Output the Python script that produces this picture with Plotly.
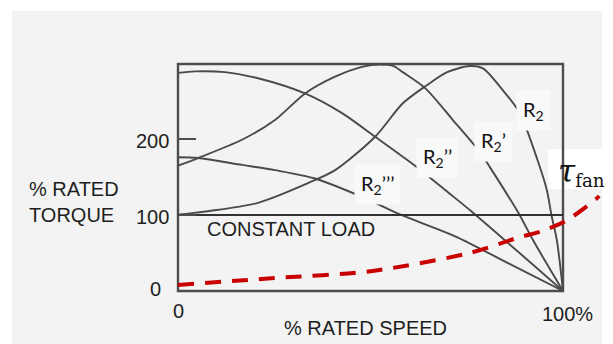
import plotly.graph_objects as go

# ---------------- data ----------------
speed_r2 = [0, 1, 7.8, 20.8, 33.8, 40.8, 51.2, 58.4, 64.7, 69.9, 75.8, 79.2, 84.4, 88.8, 93.2, 95.8, 97, 98.4, 100]
torque_r2 = [100, 101, 105, 116, 142, 159, 203, 247, 271, 288, 296, 293, 264, 234, 175, 133, 100, 67, 0]

speed_r2p = [0, 5.2, 16.6, 25.2, 33, 40.8, 47.8, 52.5, 56, 58.4, 64.2, 71.4, 78.4, 81, 88.4, 92.2, 100]
torque_r2p = [165, 175, 199, 225, 260, 282, 295, 298, 296, 288, 267, 225, 183, 163, 103, 67, 0]

speed_r2pp = [0, 4.4, 12.2, 20.8, 33, 42.6, 51.2, 62.3, 70.1, 76.4, 100]
torque_r2pp = [287, 289, 288, 280, 260, 234, 203, 162, 130, 104, 0]

speed_r2ppp = [0, 5.2, 16.6, 25.2, 35.6, 48.6, 57.5, 72, 86, 100]
torque_r2ppp = [176, 175, 166, 159, 148, 122, 101, 72, 36, 0]

speed_load = [0, 100]
torque_load = [100, 100]

speed_fan = [0, 25, 50, 75.8, 88.8, 94, 101, 108.8, 109.4]
torque_fan = [8, 17, 26, 50, 71, 78, 93, 122, 125]

y_ticks = [0, 100, 200]
y_tick_labels = ["0", "100", "200"]
x_ticks = [0, 100]
x_tick_labels = ["0", "100%"]

curve_labels = ["R<sub>2</sub>", "R<sub>2</sub>’", "R<sub>2</sub>’’", "R<sub>2</sub>’’’"]

# ---------------- geometry helpers (pixel -> paper) ----------------
W, H = 613, 344
PL, PR, PT, PB = 174, 602, 60, 295


def xp(px):
    return (px - PL) / (PR - PL)


def yp(py):
    return (PB - py) / (PB - PT)


GRAY = "#4a4a4a"
TXT = "#1e1e1e"
AX_FONT = "Liberation Sans, Arial, sans-serif"

fig = go.Figure()

for sx, ty in [(speed_r2, torque_r2), (speed_r2p, torque_r2p),
               (speed_r2pp, torque_r2pp), (speed_r2ppp, torque_r2ppp)]:
    fig.add_trace(go.Scatter(x=sx, y=ty, mode="lines",
                             line=dict(color=GRAY, width=1.9, shape="spline", smoothing=0.8),
                             hoverinfo="skip", showlegend=False))

fig.add_trace(go.Scatter(x=speed_load, y=torque_load, mode="lines",
                         line=dict(color="#333333", width=2),
                         hoverinfo="skip", showlegend=False))

fig.add_trace(go.Scatter(x=speed_fan, y=torque_fan, mode="lines",
                         line=dict(color="#c80000", width=4, dash="16px,11px",
                                   shape="spline", smoothing=0.8),
                         hoverinfo="skip", showlegend=False))

shapes = [
    # gray panel
    dict(type="rect", xref="paper", yref="paper", x0=xp(12), x1=xp(602), y0=yp(350), y1=yp(11),
         fillcolor="#f3f3f3", line=dict(width=0), layer="below"),
    # white box behind tau label
    dict(type="rect", xref="paper", yref="paper", x0=xp(548), x1=xp(620), y0=yp(189), y1=yp(149),
         fillcolor="#ffffff", line=dict(width=0), layer="below"),
    # plot frame
    dict(type="rect", xref="x", yref="y", x0=0, x1=100, y0=0, y1=298.7,
         line=dict(color="#4d4d4d", width=2.4), fillcolor="rgba(0,0,0,0)", layer="below"),
]

annotations = []
# y tick labels
for v, t in zip(y_ticks, y_tick_labels):
    annotations.append(dict(xref="paper", yref="y", x=xp(163 if v == 0 else 171), y=v,
                            yshift=(2 if v == 0 else -2), text=t, showarrow=False,
                            xanchor="right", yanchor="middle",
                            font=dict(family=AX_FONT, size=20, color=TXT)))
# x tick labels
for v, t in zip(x_ticks, x_tick_labels):
    annotations.append(dict(xref="x", yref="paper", x=v, xshift=(4 if v == 100 else 0),
                            y=yp(314 if v == 100 else 311), text=t, showarrow=False,
                            xanchor="center", yanchor="middle",
                            font=dict(family=AX_FONT, size=20, color=TXT)))
# axis titles
annotations.append(dict(xref="paper", yref="paper", x=xp(27), y=yp(202), text="% RATED<br>TORQUE",
                        showarrow=False, xanchor="left", yanchor="middle", align="left",
                        font=dict(family=AX_FONT, size=20, color=TXT)))
annotations.append(dict(xref="paper", yref="paper", x=xp(365.5), y=yp(327.5), text="% RATED SPEED",
                        showarrow=False, xanchor="center", yanchor="middle",
                        font=dict(family=AX_FONT, size=20, color=TXT)))
annotations.append(dict(xref="paper", yref="paper", x=xp(205), y=yp(228.5), text="CONSTANT LOAD",
                        showarrow=False, xanchor="left", yanchor="middle",
                        font=dict(family=AX_FONT, size=20, color=TXT)))
# curve labels
for (cx, cy), t in zip([(533, 110), (493, 141), (437, 157), (377, 184)], curve_labels):
    annotations.append(dict(xref="paper", yref="paper", x=xp(cx), y=yp(cy), text=t,
                            showarrow=False, xanchor="center", yanchor="middle",
                            bgcolor="#f9f9f9", borderpad=6,
                            font=dict(family="Lato, Carlito, sans-serif", size=20, color="#111111")))
# tau fan label
annotations.append(dict(xref="paper", yref="paper", x=xp(581), y=yp(172),
                        text="<span style='font-size:31px'><i>τ</i></span><sub>fan</sub>",
                        showarrow=False, xanchor="center", yanchor="middle",
                        font=dict(family="DejaVu Serif, serif", size=26, color="#111111")))

fig.update_layout(
    width=W, height=H,
    margin=dict(l=PL, r=W - PR, t=PT, b=H - PB, pad=0),
    paper_bgcolor="#ffffff", plot_bgcolor="rgba(0,0,0,0)",
    xaxis=dict(range=[-4 / 3.85, (PR - 178) / 3.85], visible=False, fixedrange=True),
    yaxis=dict(range=[-(PB - 291) / 0.76, 298.7 + 4 / 0.76], anchor="free", position=xp(178),
               showline=False, showgrid=False, zeroline=False, showticklabels=False,
               ticks="inside", ticklen=17, tickwidth=2, tickcolor="#4d4d4d",
               tickvals=y_ticks, fixedrange=True),
    shapes=shapes, annotations=annotations,
    showlegend=False,
)

fig.write_html("out.html", config={"displayModeBar": False},
               post_script="document.body.style.margin='0';document.body.style.overflow='hidden';")
